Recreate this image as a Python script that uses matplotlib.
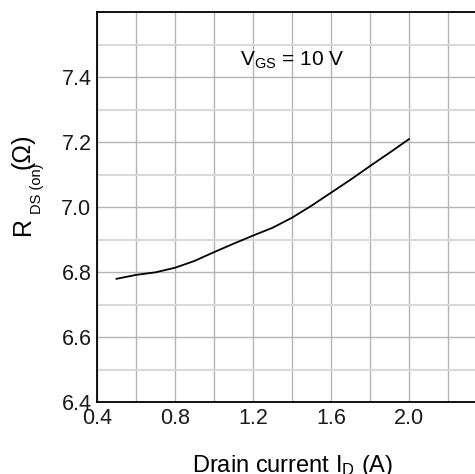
import numpy as np
import matplotlib
matplotlib.use("Agg")
import matplotlib.pyplot as plt
from matplotlib.ticker import MultipleLocator
from matplotlib.transforms import IdentityTransform

plt.rcParams['font.family'] = ['Liberation Sans', 'DejaVu Sans']
plt.rcParams['mathtext.fontset'] = 'custom'
plt.rcParams['mathtext.rm'] = 'Liberation Sans'
plt.rcParams['mathtext.it'] = 'Liberation Sans'

# drain current (A) and on-resistance (ohm)
drain_current = [0.5, 0.6, 0.7, 0.8, 0.9, 1.0, 1.1, 1.2, 1.3, 1.4, 1.5, 1.6, 1.7, 1.8, 1.9, 2.0]
rds_on = [6.78, 6.792, 6.80, 6.814, 6.835, 6.862, 6.888, 6.913, 6.937, 6.968,
          7.005, 7.045, 7.085, 7.127, 7.168, 7.21]

x_ticks = [0.4, 0.8, 1.2, 1.6, 2.0]
y_ticks = [6.4, 6.6, 6.8, 7.0, 7.2, 7.4]

fig = plt.figure(figsize=(4.75, 4.74), dpi=100)
ax = fig.add_axes([0.2042, 0.1513, 0.8211, 0.8226])

ax.plot(drain_current, rds_on, color='black', lw=1.3)

ax.set_xlim(0.4, 2.4)
ax.set_ylim(6.4, 7.6)
ax.set_xticks(x_ticks)
ax.set_xticklabels([f'{v:.1f}' for v in x_ticks])
ax.set_yticks(y_ticks)
ax.set_yticklabels([f'{v:.1f}' for v in y_ticks])
ax.xaxis.set_minor_locator(MultipleLocator(0.2))
ax.yaxis.set_minor_locator(MultipleLocator(0.1))

ax.grid(which='major', color='#b4b4b4', lw=1.0)
ax.grid(which='minor', axis='x', color='#b4b4b4', lw=1.0)
ax.grid(which='minor', axis='y', color='#d9d9d9', lw=1.5)
ax.set_axisbelow(True)

ax.tick_params(which='both', length=0, labelsize=15.5, pad=4, colors='#1a1a1a')
for s in ax.spines.values():
    s.set_linewidth(1.3)
    s.set_color('black')

ax.text(1.4, 7.453, r'V$_{\mathrm{GS}}$ = 10 V', fontsize=15, ha='center', va='center')

# x label sits at the bottom edge, as in the original
fig.text(292.5, 2, r'Drain current I$_{\mathrm{D}}$ (A)', transform=IdentityTransform(),
         fontsize=17, ha='center', va='baseline')

# y label built from pieces so the subscript can be small
ident = IdentityTransform()
kw = dict(transform=ident, rotation=90, rotation_mode='anchor', ha='left', va='baseline')
fig.text(30, 239, 'R', fontsize=18, **kw)
fig.text(41, 260, 'DS (on)', fontsize=10.5, **kw)
fig.text(30, 305, '(Ω)', fontsize=18, **kw)

fig.savefig('out.png', dpi=100)
